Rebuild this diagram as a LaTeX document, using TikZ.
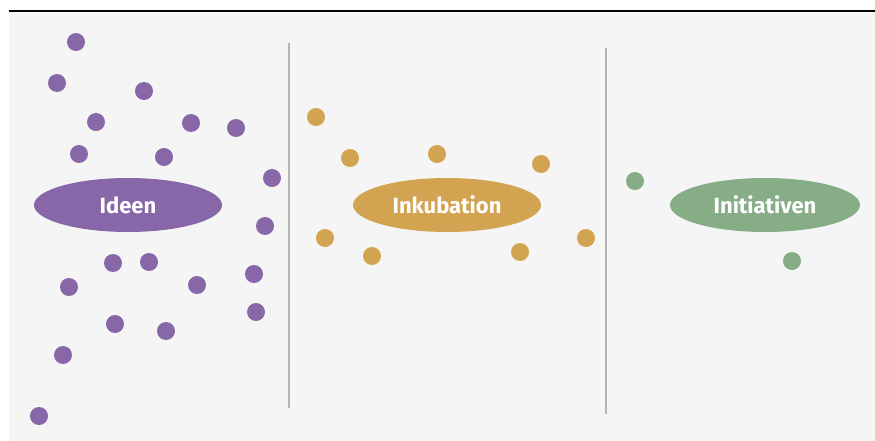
\documentclass[tikz,border=0pt]{standalone}
\usepackage{fontspec}
\setsansfont{Fira Sans}
\usetikzlibrary{shapes.geometric}
\definecolor{bgpanel}{HTML}{F5F5F5}
\definecolor{ideenc}{HTML}{8767A8}
\definecolor{inkuc}{HTML}{D2A350}
\definecolor{initc}{HTML}{86AD86}
\definecolor{divider}{HTML}{B4B4B4}
\tikzset{
  phase/.style={ellipse, minimum width=188pt, minimum height=54pt, inner sep=0pt,
    text=white, font=\sffamily\bfseries\fontsize{22}{26}\selectfont},
  dot/.style={circle, minimum size=18pt, inner sep=0pt},
  sep/.style={draw=divider, line width=2pt}
}
\begin{document}
\begin{tikzpicture}[x=1pt,y=-1pt]
\useasboundingbox (0,0) rectangle (875,441);
\fill[white] (0,0) rectangle (875,441);
\fill[bgpanel] (9,11) rectangle (875,441);
\draw[line width=1.3pt] (9,11) -- (875,11);

% dividers between phases
\coordinate (s1a) at (289,43);  \coordinate (s1b) at (289,408);
\coordinate (s2a) at (606,48);  \coordinate (s2b) at (606,414);
\draw[sep] (s1a) -- (s1b);
\draw[sep] (s2a) -- (s2b);

% phase labels
\node[phase, fill=ideenc] (ideen) at (128,205) {Ideen};
\node[phase, fill=inkuc] (inku) at (447,205) {Inkubation};
\node[phase, fill=initc, minimum width=190pt] (init) at (765,205) {Initiativen};

% scattered ideas
\foreach \x/\y [count=\i] in {76/42,57/83,144/91,96/122,191/123,236/128,79/154,164/157,
  272/178,265/226,113/263,149/262,69/287,197/285,254/274,115/324,166/331,256/312,63/355,39/416}
  \node[dot, fill=ideenc] (p\i) at (\x,\y) {};
\foreach \x/\y [count=\i] in {316/117,350/158,437/154,541/164,325/238,372/256,520/252,586/238}
  \node[dot, fill=inkuc] (o\i) at (\x,\y) {};
\foreach \x/\y [count=\i] in {635/181,792/261}
  \node[dot, fill=initc] (g\i) at (\x,\y) {};
\end{tikzpicture}
\end{document}
